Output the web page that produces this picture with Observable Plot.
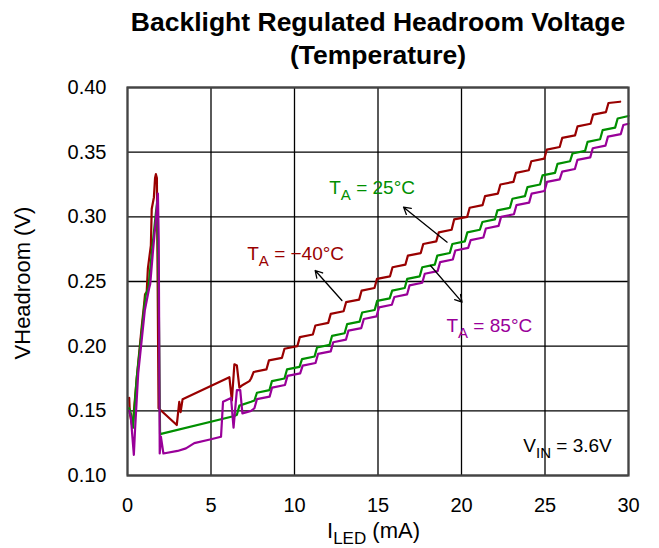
<!DOCTYPE html>
<html><head><meta charset="utf-8">
<script src="https://cdn.jsdelivr.net/npm/d3@7"></script>
<script src="https://cdn.jsdelivr.net/npm/@observablehq/plot@0.6"></script>
<style>
body{margin:0;background:#fff;font-family:"Liberation Sans",Arial,sans-serif;}
#title{width:659px;height:80px;box-sizing:border-box;padding-left:97px;padding-top:6px;text-align:center;font-weight:bold;font-size:26.5px;line-height:33px;color:#000;}
</style></head><body>
<div id="title">Backlight Regulated Headroom Voltage<br>(Temperature)</div>
<div id="chart"></div>
<script>
const xTicks = [0, 5, 10, 15, 20, 25, 30];
const yTicks = [0.10, 0.15, 0.20, 0.25, 0.30, 0.35, 0.40];

// I_LED (mA), VHeadroom (V)
const tMinus40 = [[0.10,0.160],[0.14,0.148],[0.30,0.137],[0.55,0.175],[0.85,0.215],[1.00,0.233],[1.05,0.240],[1.15,0.242],[1.22,0.260],[1.40,0.278],[1.45,0.306],[1.58,0.315],[1.65,0.330],[1.70,0.333],[1.76,0.330],[1.86,0.152],[2.95,0.139],[3.10,0.157],[3.18,0.149],[3.30,0.159],[6.10,0.176],[6.25,0.158],[6.40,0.186],[6.55,0.185],[6.70,0.168],[6.90,0.170],[7.30,0.173],
[7.40,0.175],[7.55,0.180],[8.32,0.182],[8.47,0.189],[9.25,0.191],[9.40,0.198],[10.17,0.200],[10.32,0.207],[11.10,0.209],[11.25,0.216],[12.02,0.218],[12.17,0.225],[12.94,0.227],[13.09,0.234],[13.87,0.236],[14.02,0.243],[14.79,0.245],[14.94,0.252],[15.72,0.254],[15.87,0.261],[16.64,0.263],[16.79,0.270],[17.56,0.272],[17.71,0.279],[18.49,0.281],[18.64,0.288],[19.41,0.290],[19.56,0.298],[20.34,0.300],[20.49,0.307],[21.26,0.309],[21.41,0.316],[22.18,0.318],[22.33,0.325],[23.11,0.327],[23.26,0.334],[24.03,0.336],[24.18,0.343],[24.96,0.345],[25.11,0.352],[25.88,0.354],[26.03,0.361],[26.80,0.363],[26.95,0.370],[27.73,0.372],[27.88,0.379],[28.65,0.381],[28.80,0.388],[29.50,0.389]];

const t25 = [[0.10,0.152],[0.20,0.148],[0.33,0.137],[0.55,0.175],[0.80,0.205],[1.00,0.230],[1.10,0.240],[1.25,0.245],[1.50,0.278],[1.70,0.303],[1.78,0.312],[1.86,0.250],[1.95,0.132],[6.40,0.146],[6.55,0.147],[6.70,0.154],[7.40,0.157],
[7.60,0.158],[7.75,0.164],[8.50,0.166],[8.65,0.173],[9.40,0.175],[9.55,0.182],[10.30,0.184],[10.45,0.190],[11.20,0.192],[11.35,0.199],[12.10,0.201],[12.25,0.208],[13.00,0.210],[13.15,0.217],[13.90,0.219],[14.05,0.226],[14.80,0.228],[14.95,0.235],[15.70,0.237],[15.85,0.243],[16.60,0.245],[16.75,0.252],[17.50,0.254],[17.65,0.261],[18.40,0.263],[18.55,0.270],[19.30,0.272],[19.45,0.279],[20.20,0.281],[20.35,0.288],[21.10,0.290],[21.25,0.296],[22.00,0.298],[22.15,0.305],[22.90,0.307],[23.05,0.314],[23.80,0.316],[23.95,0.323],[24.70,0.325],[24.85,0.332],[25.60,0.334],[25.75,0.341],[26.50,0.343],[26.65,0.349],[27.40,0.351],[27.55,0.358],[28.30,0.360],[28.45,0.367],[29.20,0.369],[29.35,0.376],[30.00,0.378]];

const t85 = [[0.10,0.150],[0.20,0.145],[0.38,0.116],[0.45,0.135],[0.64,0.179],[1.04,0.228],[1.30,0.245],[1.36,0.248],[1.53,0.274],[1.73,0.302],[1.82,0.318],[1.87,0.282],[1.93,0.117],[2.00,0.130],[2.15,0.117],[3.00,0.119],[3.50,0.121],[4.00,0.125],[5.00,0.128],[5.60,0.130],[5.72,0.157],[6.20,0.160],[6.35,0.137],[6.55,0.166],[6.75,0.166],[6.88,0.148],[7.40,0.150],
[7.60,0.152],[7.75,0.159],[8.51,0.161],[8.66,0.168],[9.43,0.170],[9.58,0.177],[10.34,0.179],[10.49,0.185],[11.26,0.187],[11.41,0.194],[12.17,0.196],[12.32,0.203],[13.08,0.205],[13.23,0.212],[14.00,0.214],[14.15,0.221],[14.91,0.223],[15.06,0.230],[15.83,0.232],[15.98,0.238],[16.74,0.240],[16.89,0.247],[17.65,0.249],[17.80,0.256],[18.57,0.258],[18.72,0.265],[19.48,0.267],[19.63,0.274],[20.40,0.276],[20.55,0.282],[21.31,0.284],[21.46,0.291],[22.22,0.293],[22.37,0.300],[23.14,0.302],[23.29,0.309],[24.05,0.311],[24.20,0.318],[24.97,0.320],[25.12,0.327],[25.88,0.329],[26.03,0.335],[26.79,0.337],[26.94,0.344],[27.71,0.346],[27.86,0.353],[28.62,0.355],[28.77,0.362],[29.54,0.364],[29.69,0.371],[30.00,0.372]];

const seriesColors = ["#990000", "#008f00", "#990099"];

// annotation labels
const labelPre = ["T", "T", "T", "V"];
const labelSub = ["A", "A", "A", "IN"];
const labelPost = [" = \u221240\u00B0C", " = 25\u00B0C", " = 85\u00B0C", " = 3.6V"];
const labelX = [7.17, 12.08, 19.1, 23.7];
const labelY = [0.271, 0.322, 0.216, 0.123];
const labelColor = ["#990000", "#008f00", "#990099", "#000000"];

// arrows: tail (on curve) -> head (toward label)
const arrowX1 = [12.84, 19.14, 18.14];
const arrowY1 = [0.2353, 0.2804, 0.2624];
const arrowX2 = [11.24, 16.53, 20.03];
const arrowY2 = [0.2585, 0.3075, 0.2340];

const labels = labelPre.map((p, i) => ({x: labelX[i], y: labelY[i], pre: p, sub: labelSub[i], post: labelPost[i], color: labelColor[i]}));
const arrows = arrowX1.map((x, i) => ({x1: x, y1: arrowY1[i], x2: arrowX2[i], y2: arrowY2[i]}));

const font = '"Liberation Sans", Arial, sans-serif';
const plot = Plot.plot({
  width: 659, height: 468,
  marginLeft: 127, marginRight: 31, marginTop: 7, marginBottom: 73,
  style: {fontFamily: font, fontSize: "20px", color: "#000", background: "#fff", overflow: "visible"},
  x: {domain: [0, 30]},
  y: {domain: [0.10, 0.40]},
  color: {type: "identity"},
  marks: [
    Plot.gridX(xTicks, {stroke: "#000", strokeOpacity: 1, strokeWidth: 1.3}),
    Plot.gridY(yTicks, {stroke: "#000", strokeOpacity: 1, strokeWidth: 1.3}),
    Plot.line(tMinus40, {x: d => d[0], y: d => d[1], stroke: seriesColors[0], strokeWidth: 2.2, strokeLinejoin: "round"}),
    Plot.line(t25, {x: d => d[0], y: d => d[1], stroke: seriesColors[1], strokeWidth: 2.2, strokeLinejoin: "round"}),
    Plot.line(t85, {x: d => d[0], y: d => d[1], stroke: seriesColors[2], strokeWidth: 2.2, strokeLinejoin: "round"}),
    Plot.frame({stroke: "#444", strokeWidth: 2.2}),
    Plot.arrow(arrows, {x1: "x1", y1: "y1", x2: "x2", y2: "y2", stroke: "#000", strokeWidth: 1.3, headLength: 9}),
    Plot.text(labels, {x: "x", y: "y", text: d => d.pre + d.sub + d.post, fill: "color", textAnchor: "start", fontSize: 19, className: "anno"}),
    Plot.axisX(xTicks, {tickSize: 0, tickPadding: 22, label: null}),
    Plot.axisY(yTicks, {tickSize: 0, tickPadding: 21, tickFormat: d3.format(".2f"), label: null})
  ]
});
document.getElementById("chart").appendChild(plot);

const svg = d3.select(plot);
svg.selectAll("g.anno text").each(function(_, i) {
  const d = labels[i];
  const t = d3.select(this);
  t.text(null);
  t.append("tspan").text(d.pre);
  t.append("tspan").attr("dy", 6).attr("font-size", 15).text(d.sub);
  t.append("tspan").attr("dy", -6).text(d.post);
});

const xl = svg.append("text").attr("x", 327).attr("y", 458).attr("font-size", 22)
  .attr("text-anchor", "start").attr("fill", "#000");
xl.append("tspan").text("I");
xl.append("tspan").attr("dy", 6).attr("font-size", 17).text("LED");
xl.append("tspan").attr("dy", -6).text(" (mA)");

svg.append("text").attr("transform", "translate(22,203) rotate(-90)")
  .attr("text-anchor", "middle").attr("dominant-baseline", "central")
  .attr("font-size", 22).attr("fill", "#000").text("VHeadroom (V)");
</script>
</body></html>
